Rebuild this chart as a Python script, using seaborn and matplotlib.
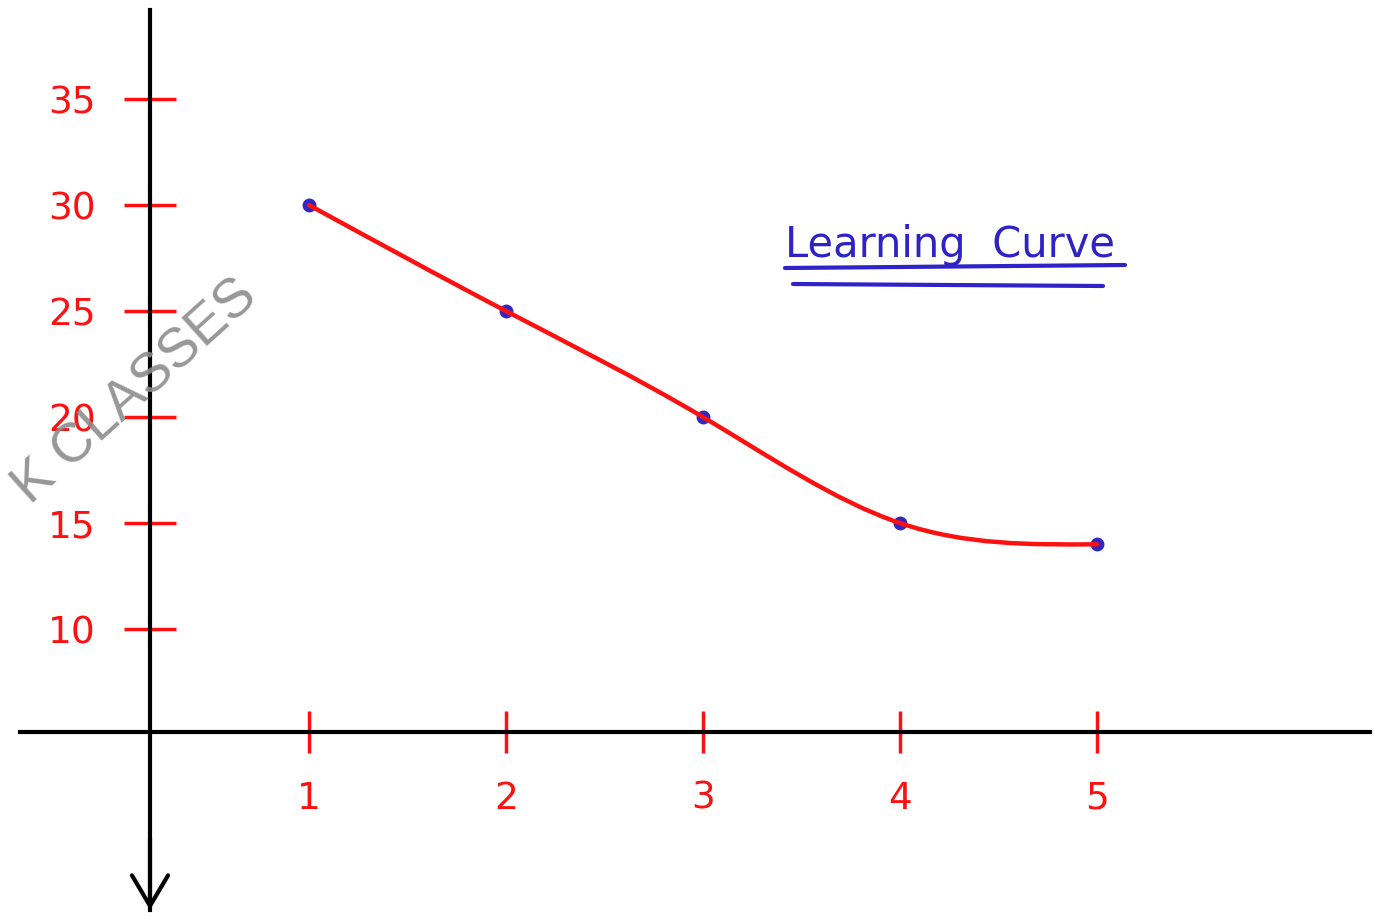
import numpy as np
import matplotlib
matplotlib.use("Agg")
import matplotlib.pyplot as plt
from matplotlib.path import Path
from matplotlib.patches import PathPatch
import seaborn as sns

# Learning curve: time taken per attempt
attempts = [1, 2, 3, 4, 5]
time_taken = [30, 25, 20, 15, 14]
x_ticks = [1, 2, 3, 4, 5]
y_ticks = [10, 15, 20, 25, 30, 35]
title_text = "Learning  Curve"
watermark_text = "K CLASSES"

RED = "#ff1010"
BLUE = "#3327c2"
INK = "#2f22c6"

sns.set_theme(style="white")
plt.rcParams["font.family"] = ["DejaVu Sans"]

W, H = 1383, 923
fig = plt.figure(figsize=(W / 100, H / 100), dpi=100)
fig.patch.set_facecolor("white")


def fx(px):
    return px / W


def fy(py):
    return 1 - py / H


ax = fig.add_axes([fx(20), fy(910), 1350 / W, 900 / H])
ax.set_facecolor("white")
ax.set_xlim(-0.467, 6.386)
ax.set_ylim(-3.25, 39.2)

# Hand-drawn style axes: black spines crossing inside the frame
for side in ("top", "right"):
    ax.spines[side].set_visible(False)
ax.spines["left"].set_position(("axes", 130 / 1350))
ax.spines["bottom"].set_position(("axes", 178 / 900))
for side in ("left", "bottom"):
    ax.spines[side].set_color("black")
    ax.spines[side].set_linewidth(3)
    ax.spines[side].set_zorder(2)

ax.set_xticks(x_ticks)
ax.set_yticks(y_ticks)
ax.tick_params(axis="both", direction="inout", color=RED, labelcolor=RED,
               width=2.5, labelsize=27, pad=20, bottom=True, left=True,
               top=False, right=False)
ax.tick_params(axis="x", length=30)
ax.tick_params(axis="y", length=38)
for lab in ax.get_xticklabels() + ax.get_yticklabels():
    lab.set_fontfamily("DejaVu Sans")
ax.grid(False)

# Arrow head at the lower end of the vertical axis
ax.annotate("", xy=(130 / 1350, 0.0), xytext=(130 / 1350, 0.08),
            xycoords="axes fraction",
            arrowprops=dict(arrowstyle="->,head_length=2.2,head_width=1.3",
                            lw=3, color="black", mutation_scale=10,
                            shrinkA=0, shrinkB=0))

# Data points
sns.scatterplot(x=attempts, y=time_taken, ax=ax, color=BLUE, s=100,
                linewidth=0, zorder=3, legend=False)

# Smooth curve through the points (natural cubic spline as Bezier segments)
xs = np.array(attempts, dtype=float)
ys = np.array(time_taken, dtype=float)
n = len(xs)
h = np.diff(xs)
A = np.zeros((n, n))
b = np.zeros(n)
A[0, 0] = A[-1, -1] = 1
for i in range(1, n - 1):
    A[i, i - 1] = h[i - 1]
    A[i, i] = 2 * (h[i - 1] + h[i])
    A[i, i + 1] = h[i]
    b[i] = 6 * ((ys[i + 1] - ys[i]) / h[i] - (ys[i] - ys[i - 1]) / h[i - 1])
M = np.linalg.solve(A, b)
slopes = np.zeros(n)
for i in range(n - 1):
    slopes[i] = (ys[i + 1] - ys[i]) / h[i] - h[i] * (2 * M[i] + M[i + 1]) / 6
slopes[-1] = (ys[-1] - ys[-2]) / h[-1] + h[-1] * (M[-2] + 2 * M[-1]) / 6

verts = [(xs[0], ys[0])]
codes = [Path.MOVETO]
for i in range(n - 1):
    d = h[i] / 3
    verts += [(xs[i] + d, ys[i] + d * slopes[i]),
              (xs[i + 1] - d, ys[i + 1] - d * slopes[i + 1]),
              (xs[i + 1], ys[i + 1])]
    codes += [Path.CURVE4] * 3
ax.add_patch(PathPatch(Path(verts, codes), facecolor="none", edgecolor=RED,
                       lw=3.2, zorder=4, capstyle="round"))

# Title with double underline
fig.text(fx(785), fy(257), title_text, color=INK, fontsize=30,
         family="DejaVu Sans", ha="left", va="baseline")
fig.add_artist(plt.Line2D([fx(785), fx(1125)], [fy(268), fy(265)],
                          color=INK, lw=3, solid_capstyle="round"))
fig.add_artist(plt.Line2D([fx(793), fx(1103)], [fy(284), fy(286)],
                          color=INK, lw=3, solid_capstyle="round"))

# Watermark
fig.text(fx(136), fy(392), watermark_text, color="#8c8c8c", fontsize=40,
         family="Liberation Sans", rotation=42, ha="center", va="center",
         rotation_mode="anchor", alpha=0.9, zorder=0)

fig.savefig("out.png", dpi=100, facecolor="white")
